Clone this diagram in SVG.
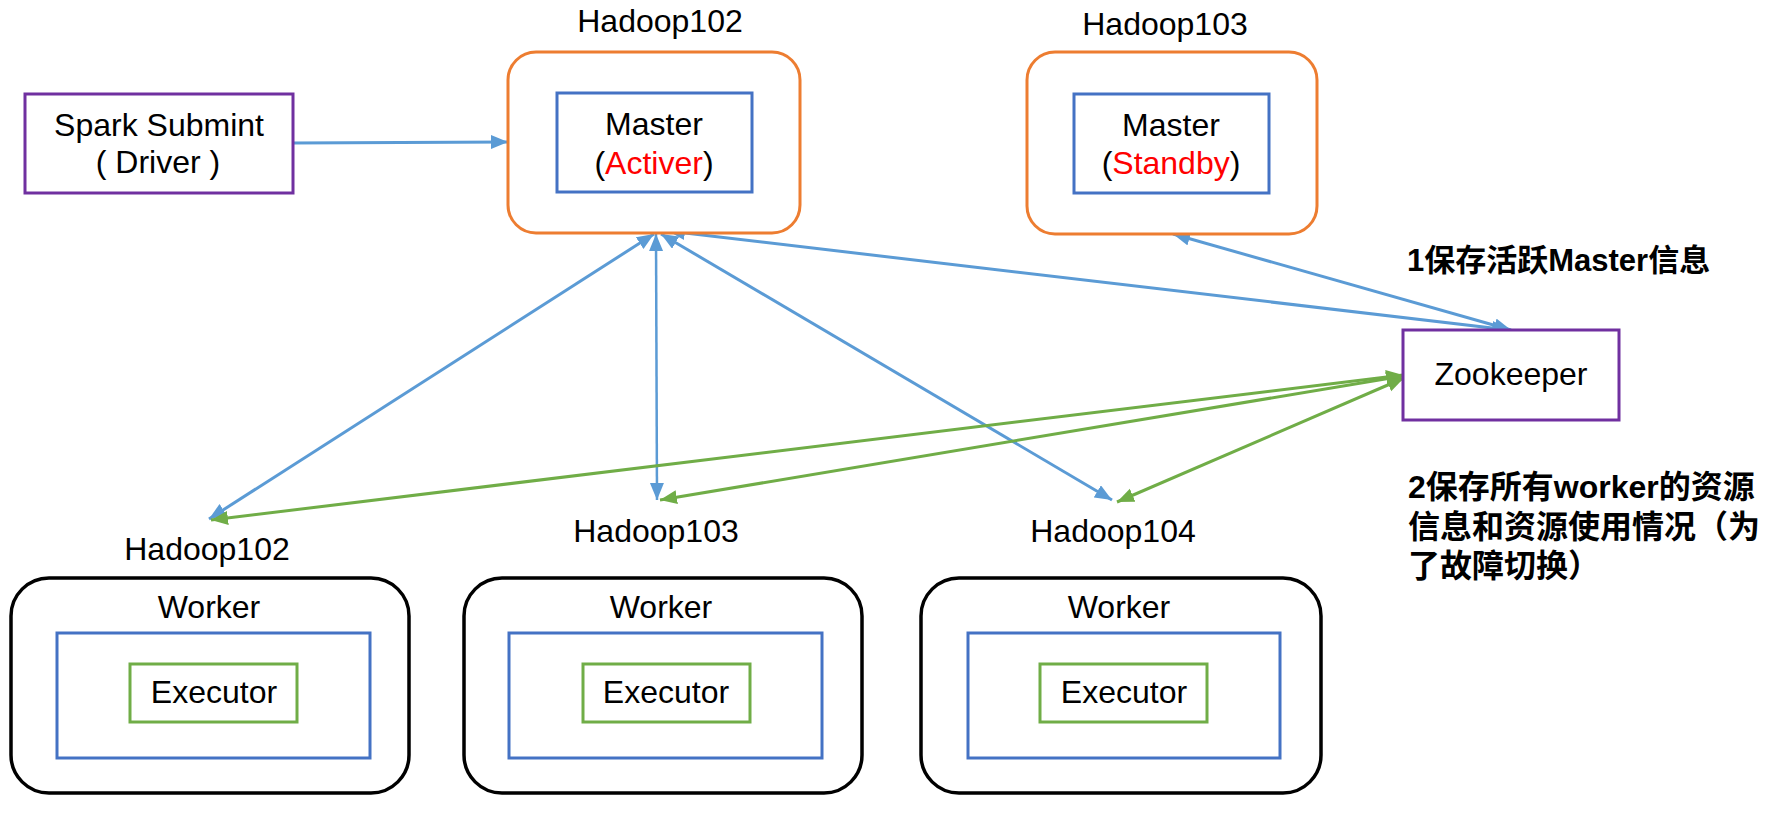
<svg xmlns="http://www.w3.org/2000/svg" width="1781" height="816" viewBox="0 0 1781 816">
<style>
text{font-family:"Liberation Sans","Noto Sans CJK SC",Arial,sans-serif;font-size:32px;fill:#000}
.c{text-anchor:middle}
.red{fill:#FF0000}
.note{font-weight:bold}
.orange{fill:#fff;stroke:#ED7D31;stroke-width:3}
.inner{fill:#fff;stroke:#4472C4;stroke-width:3}
.purple{fill:#fff;stroke:#7030A0;stroke-width:3}
.worker{fill:#fff;stroke:#000;stroke-width:3.5}
.exec{fill:#fff;stroke:#70AD47;stroke-width:3}
.bl{stroke:#5B9BD5;stroke-width:3;fill:none}
.gr{stroke:#70AD47;stroke-width:3;fill:none}
</style>
<defs>
<marker id="ab" markerUnits="userSpaceOnUse" markerWidth="18" markerHeight="15" refX="17" refY="7" orient="auto-start-reverse" viewBox="0 0 18 15"><path d="M0,0 L17,7 L0,14 z" fill="#5B9BD5"/></marker>
<marker id="ag" markerUnits="userSpaceOnUse" markerWidth="18" markerHeight="15" refX="17" refY="7" orient="auto-start-reverse" viewBox="0 0 18 15"><path d="M0,0 L17,7 L0,14 z" fill="#70AD47"/></marker>
</defs>

<g id="connectors">
<line class="bl" x1="293" y1="143" x2="508" y2="142" marker-end="url(#ab)"/>
<line class="bl" x1="654" y1="234" x2="209" y2="519" marker-start="url(#ab)" marker-end="url(#ab)"/>
<line class="bl" style="stroke-width:2.5" x1="656" y1="234" x2="657" y2="500" marker-start="url(#ab)" marker-end="url(#ab)"/>
<line class="bl" x1="661" y1="234" x2="1112" y2="500" marker-start="url(#ab)" marker-end="url(#ab)"/>
<line class="bl" x1="668" y1="231" x2="1509" y2="330" marker-start="url(#ab)" marker-end="url(#ab)"/>
<line class="bl" x1="1173" y1="234" x2="1511" y2="330" marker-start="url(#ab)" marker-end="url(#ab)"/>
<line class="gr" x1="1403" y1="375" x2="211" y2="520" marker-start="url(#ag)" marker-end="url(#ag)"/>
<line class="gr" x1="1403" y1="376" x2="660" y2="500" marker-start="url(#ag)" marker-end="url(#ag)"/>
<line class="gr" x1="1404" y1="378" x2="1117" y2="502" marker-start="url(#ag)" marker-end="url(#ag)"/>
</g>

<g id="spark-submit">
<rect class="purple" x="25" y="94" width="268" height="99"/>
<text class="c" x="159" y="136">Spark Submint</text>
<text class="c" x="158" y="173">( Driver )</text>
</g>

<g id="master-hadoop102">
<text class="c" x="660" y="32">Hadoop102</text>
<rect class="orange" x="508" y="52" width="292" height="181" rx="28" ry="28"/>
<rect class="inner" x="557" y="93" width="195" height="99"/>
<text class="c" x="654" y="135">Master</text>
<text class="c" x="654" y="174">(<tspan class="red">Activer</tspan>)</text>
</g>

<g id="master-hadoop103">
<text class="c" x="1165" y="35">Hadoop103</text>
<rect class="orange" x="1027" y="52" width="290" height="182" rx="28" ry="28"/>
<rect class="inner" x="1074" y="94" width="195" height="99"/>
<text class="c" x="1171" y="136">Master</text>
<text class="c" x="1171" y="174">(<tspan class="red">Standby</tspan>)</text>
</g>

<g id="zookeeper">
<rect class="purple" x="1403" y="330" width="216" height="90"/>
<text class="c" x="1511" y="385">Zookeeper</text>
</g>

<g id="note1">
<text class="note" x="1407" y="271" style="font-size:31px">1保存活跃Master信息</text>
</g>

<g id="note2">
<text class="note" x="1408" y="498">2保存所有worker的资源</text>
<text class="note" x="1408" y="538">信息和资源使用情况（为</text>
<text class="note" x="1408" y="577">了故障切换）</text>
</g>

<g id="worker-hadoop102">
<text class="c" x="207" y="560">Hadoop102</text>
<rect class="worker" x="11" y="578" width="398" height="215" rx="38" ry="38"/>
<text class="c" x="209" y="618">Worker</text>
<rect class="inner" x="57" y="633" width="313" height="125"/>
<rect class="exec" x="130" y="664" width="167" height="58"/>
<text class="c" x="214" y="703">Executor</text>
</g>

<g id="worker-hadoop103">
<text class="c" x="656" y="542">Hadoop103</text>
<rect class="worker" x="464" y="578" width="398" height="215" rx="38" ry="38"/>
<text class="c" x="661" y="618">Worker</text>
<rect class="inner" x="509" y="633" width="313" height="125"/>
<rect class="exec" x="583" y="664" width="167" height="58"/>
<text class="c" x="666" y="703">Executor</text>
</g>

<g id="worker-hadoop104">
<text class="c" x="1113" y="542">Hadoop104</text>
<rect class="worker" x="921" y="578" width="400" height="215" rx="38" ry="38"/>
<text class="c" x="1119" y="618">Worker</text>
<rect class="inner" x="968" y="633" width="312" height="125"/>
<rect class="exec" x="1040" y="664" width="167" height="58"/>
<text class="c" x="1124" y="703">Executor</text>
</g>
</svg>
